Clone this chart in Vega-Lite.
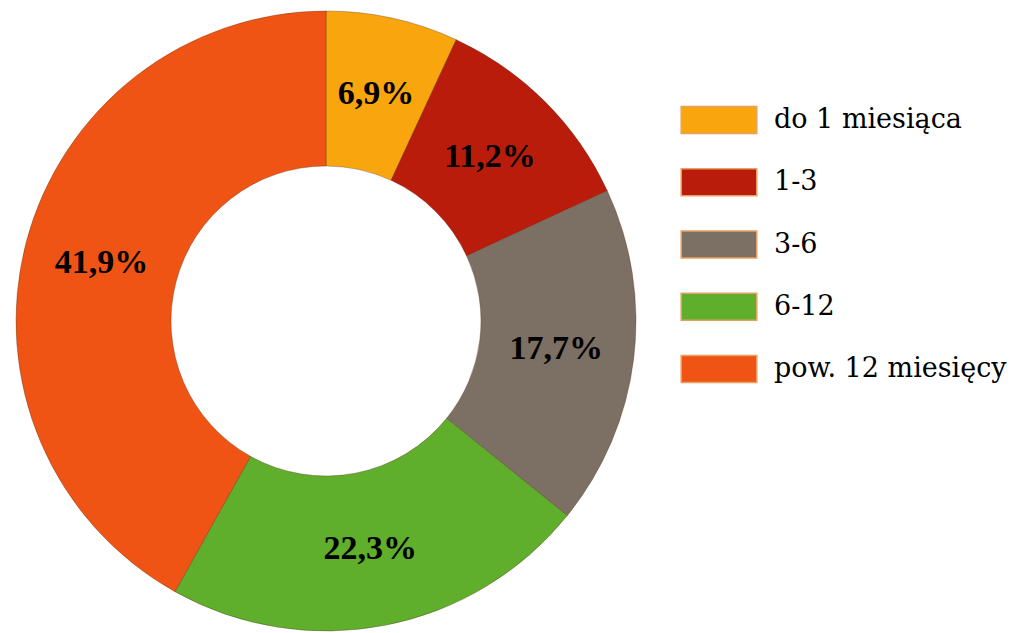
{
  "$schema": "https://vega.github.io/schema/vega-lite/v6.json",
  "width": 652,
  "height": 642,
  "autosize": {"type": "none"},
  "padding": {"left": 0, "top": 0, "right": 367, "bottom": 0},
  "background": "white",
  "config": {
    "view": {"stroke": null},
    "style": {"guide-label": {"font": "serif"}}
  },
  "data": {
    "values": [
      {"okres": "do 1 miesiąca", "udzial": 6.9, "label": "6,9%", "kolejnosc": 1},
      {"okres": "1-3", "udzial": 11.2, "label": "11,2%", "kolejnosc": 2},
      {"okres": "3-6", "udzial": 17.7, "label": "17,7%", "kolejnosc": 3},
      {"okres": "6-12", "udzial": 22.3, "label": "22,3%", "kolejnosc": 4},
      {"okres": "pow. 12 miesięcy", "udzial": 41.9, "label": "41,9%", "kolejnosc": 5}
    ]
  },
  "encoding": {
    "theta": {"field": "udzial", "type": "quantitative", "stack": true},
    "order": {"field": "kolejnosc", "type": "quantitative"}
  },
  "layer": [
    {
      "mark": {"type": "arc", "outerRadius": 310, "innerRadius": 155, "stroke": "#5a2a10", "strokeOpacity": 0.35, "strokeWidth": 1},
      "encoding": {
        "color": {
          "field": "okres",
          "type": "nominal",
          "sort": ["do 1 miesiąca", "1-3", "3-6", "6-12", "pow. 12 miesięcy"],
          "scale": {
            "domain": ["do 1 miesiąca", "1-3", "3-6", "6-12", "pow. 12 miesięcy"],
            "range": ["#F9A60E", "#BA1C0C", "#7C7064", "#5FAE2C", "#F05414"]
          },
          "legend": {
            "title": null,
            "orient": "none",
            "legendX": 691,
            "legendY": 92,
            "padding": 0,
            "symbolType": "M-1.4,-0.5H1.4V0.5H-1.4Z",
            "symbolSize": 2916,
            "symbolStrokeWidth": 1.5,
            "symbolStrokeColor": "#E8A060",
            "symbolOpacity": 1,
            "rowPadding": 17.25,
            "labelOffset": 27,
            "labelFont": "DejaVu Serif",
            "labelFontSize": 27,
            "labelColor": "#000000",
            "labelLimit": 400
          }
        }
      }
    },
    {
      "mark": {"type": "text", "radius": 232, "font": "Liberation Serif", "fontWeight": "bold", "fontSize": 34, "color": "#000000"},
      "encoding": {
        "text": {"field": "label", "type": "nominal"}
      }
    }
  ]
}
